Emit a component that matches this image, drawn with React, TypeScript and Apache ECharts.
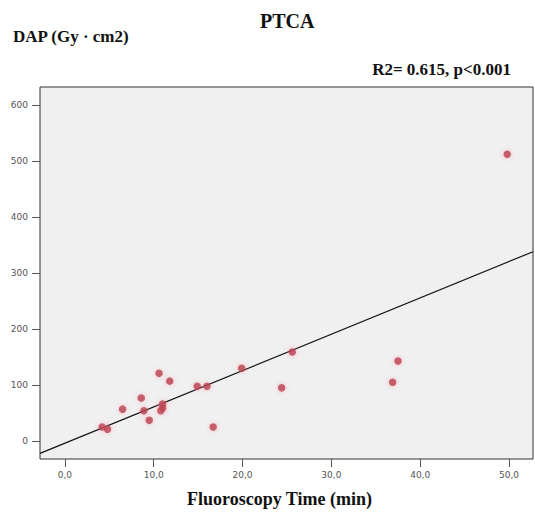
import React, { useEffect, useRef } from "react";
import * as echarts from "echarts";

const fluoroTime: number[] = [4.2, 4.8, 6.5, 8.6, 8.9, 9.5, 10.6, 11.8, 11.0, 10.8, 11.0, 14.9, 16.0, 16.7, 19.9, 24.4, 25.6, 37.5, 36.9, 49.8];
const dapValues: number[] = [25, 21, 57, 77, 54, 37, 121, 107, 66, 54, 59, 98, 98, 25, 130, 95, 159, 143, 105, 512];
const fitLineX: number[] = [-2.8, 52.7];
const fitLineY: number[] = [-22, 338];
const xTicks: number[] = [0, 10, 20, 30, 40, 50];
const yTicks: number[] = [0, 100, 200, 300, 400, 500, 600];

export default function App() {
  const ref = useRef<HTMLDivElement>(null);
  useEffect(() => {
    if (!ref.current) return;
    const chart = echarts.init(ref.current, null, { renderer: "svg" });
    const points = fluoroTime.map((x, i) => [x, dapValues[i]]);
    const line = fitLineX.map((x, i) => [x, fitLineY[i]]);
    const serif = "'Liberation Serif', 'Times New Roman', serif";
    chart.setOption({
      animation: false,
      backgroundColor: "#ffffff",
      grid: {
        left: 40,
        top: 87,
        right: 2,
        bottom: 54,
        show: true,
        backgroundColor: "#f0f0f0",
        borderColor: "#333333",
        borderWidth: 1,
      },
      xAxis: {
        type: "value",
        min: -2.8,
        max: 52.7,
        splitLine: { show: false },
        axisLine: { show: false, onZero: false },
        axisTick: { show: true, length: 8, customValues: xTicks, lineStyle: { color: "#555" } },
        axisLabel: {
          customValues: xTicks,
          margin: 11,
          fontSize: 9,
          color: "#555",
          fontFamily: "'DejaVu Sans', sans-serif",
          formatter: (v: number) => v.toFixed(1).replace(".", ","),
        },
      },
      yAxis: {
        type: "value",
        min: -32,
        max: 632,
        splitLine: { show: false },
        axisLine: { show: false, onZero: false },
        axisTick: { show: true, length: 8, customValues: yTicks, lineStyle: { color: "#555" } },
        axisLabel: {
          customValues: yTicks,
          margin: 12,
          fontSize: 9,
          color: "#555",
          fontFamily: "'DejaVu Sans', sans-serif",
        },
      },
      series: [
        {
          type: "line",
          data: line,
          symbol: "none",
          lineStyle: { color: "#111", width: 1.2 },
          z: 2,
        },
        {
          type: "scatter",
          data: points,
          symbol: "circle",
          symbolSize: 7.5,
          itemStyle: {
            color: "#b8404f",
            shadowBlur: 5,
            shadowColor: "rgba(255,120,140,0.6)",
          },
          z: 3,
        },
      ],
      graphic: [
        {
          type: "text",
          left: 260,
          top: 11,
          style: { text: "PTCA", font: `bold 20px ${serif}`, fill: "#111" },
        },
        {
          type: "text",
          left: 13,
          top: 28,
          style: { text: "DAP (Gy · cm2)", font: `bold 17px ${serif}`, fill: "#111" },
        },
        {
          type: "text",
          right: 24,
          top: 61,
          style: { text: "R2= 0.615, p<0.001", font: `bold 17px ${serif}`, fill: "#111" },
        },
        {
          type: "text",
          left: 187,
          top: 490,
          style: { text: "Fluoroscopy Time (min)", font: `bold 18px ${serif}`, fill: "#111" },
        },
      ],
    });
    return () => chart.dispose();
  }, []);
  return (
    <div
      ref={ref}
      style={{ position: "fixed", left: 0, top: 0, width: 535, height: 513 }}
    />
  );
}
